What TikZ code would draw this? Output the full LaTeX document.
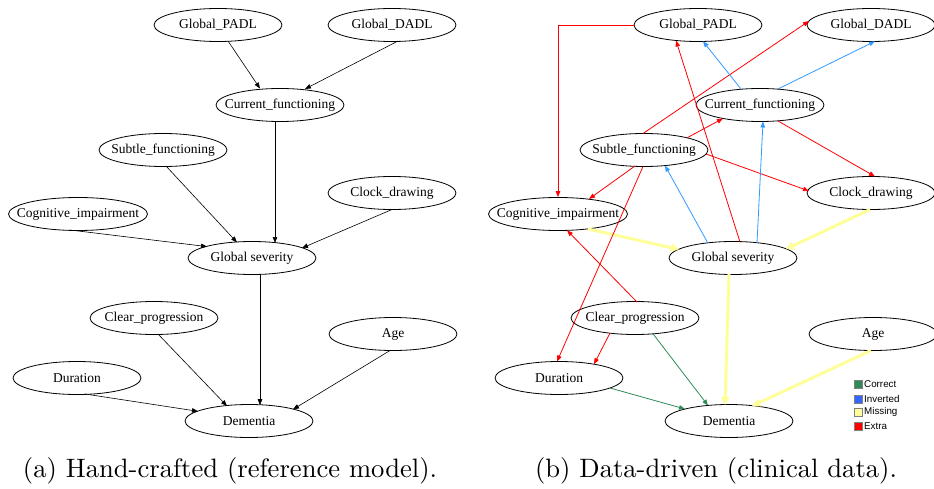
\documentclass[tikz,border=0pt]{standalone}
\usepackage{fontspec}
\newfontfamily\nodefont{Liberation Serif}
\newfontfamily\legfont{Liberation Sans}
\newfontfamily\capfont{lmroman10-regular}[Extension=.otf]
\usetikzlibrary{shapes.geometric,arrows.meta}
\definecolor{cgreen}{RGB}{46,139,87}
\definecolor{cblue}{RGB}{51,102,255}
\definecolor{eblue}{RGB}{51,153,255}
\definecolor{cyell}{RGB}{255,255,153}
\definecolor{cred}{RGB}{255,0,0}
\newcommand\lbl[1]{\makebox[0pt]{#1}}
\tikzset{
  nd/.style={ellipse, draw=black, line width=0.8pt, minimum width=128pt, minimum height=33pt,
    inner sep=0pt, font=\nodefont\fontsize{13.5}{15}\selectfont},
  blk/.style={draw=black, line width=0.6pt, -{Triangle[length=6pt,width=4.5pt]}},
  redl/.style={draw=cred, line width=0.8pt, -{Triangle[length=6pt,width=4.5pt]}},
  bluel/.style={draw=eblue, line width=0.8pt, -{Triangle[length=6pt,width=4.5pt]}},
  greenl/.style={draw=cgreen, line width=0.8pt, -{Triangle[length=6pt,width=4.5pt]}},
  yell/.style={draw=cyell, line width=3pt, -{Triangle[length=8pt,width=8pt]}},
  legbox/.style={draw=gray, line width=0.4pt, minimum size=8pt, inner sep=0pt},
  legtext/.style={anchor=west, inner sep=0pt, font=\legfont\fontsize{9.8}{11}\selectfont},
  captxt/.style={anchor=base, inner sep=0pt, font=\capfont\fontsize{26.6}{31}\selectfont}
}
\begin{document}
\begin{tikzpicture}[x=1pt,y=-1pt]
\useasboundingbox (0,0) rectangle (934,489);
% ---------- left panel ----------
\node[nd] (gp) at (218,25) {\lbl{Global\_PADL}};
\node[nd] (gd) at (392,25) {\lbl{Global\_DADL}};
\node[nd] (cf) at (280,105) {\lbl{Current\_functioning}};
\node[nd] (sf) at (163,150) {\lbl{Subtle\_functioning}};
\node[nd] (cd) at (392,193) {\lbl{Clock\_drawing}};
\node[nd, minimum width=139pt] (ci) at (78,214) {\lbl{Cognitive\_impairment}};
\node[nd] (gs) at (252,258) {\lbl{Global severity}};
\node[nd] (cp) at (154,318) {\lbl{Clear\_progression}};
\node[nd] (ag) at (393,334) {\lbl{Age}};
\node[nd] (du) at (77,378) {\lbl{Duration}};
\node[nd] (de) at (249,421) {\lbl{Dementia}};

\draw[blk] ([shift={(10,16)}]gp.center) -- ([shift={(-20,-16.5)}]cf.center);
\draw[blk] ([shift={(6,16)}]gd.center) -- ([shift={(25,-16)}]cf.center);
\draw[blk] ([shift={(-5,16.5)}]cf.center) -- ([shift={(23,-15)}]gs.center);
\draw[blk] ([shift={(3,16)}]sf.center) -- ([shift={(-15,-15.6)}]gs.center);
\draw[blk] ([shift={(-8,16)}]ci.center) -- ([shift={(-45,-11.4)}]gs.center);
\draw[blk] ([shift={(0,16.5)}]cd.center) -- ([shift={(50,-10)}]gs.center);
\draw[blk] ([shift={(8,16)}]gs.center) -- ([shift={(11,-15.8)}]de.center);
\draw[blk] ([shift={(4,16)}]cp.center) -- ([shift={(-22,-15)}]de.center);
\draw[blk] ([shift={(8,16)}]du.center) -- ([shift={(-51,-9.7)}]de.center);
\draw[blk] ([shift={(-3,16.5)}]ag.center) -- ([shift={(44,-11.6)}]de.center);

\node[captxt] (capa) at (230,477) {(a) Hand-crafted (reference model).};

% ---------- right panel ----------
\node[nd] (gp2) at (698,25) {\lbl{Global\_PADL}};
\node[nd] (gd2) at (871,25) {\lbl{Global\_DADL}};
\node[nd] (cf2) at (760,105) {\lbl{Current\_functioning}};
\node[nd] (sf2) at (644,150) {\lbl{Subtle\_functioning}};
\node[nd] (cd2) at (871,193) {\lbl{Clock\_drawing}};
\node[nd, minimum width=139pt] (ci2) at (558,214) {\lbl{Cognitive\_impairment}};
\node[nd] (gs2) at (733,258) {\lbl{Global severity}};
\node[nd] (cp2) at (635,318) {\lbl{Clear\_progression}};
\node[nd] (ag2) at (873,334) {\lbl{Age}};
\node[nd] (du2) at (559,378) {\lbl{Duration}};
\node[nd] (de2) at (729,421) {\lbl{Dementia}};

% yellow (missing)
\draw[yell] ([shift={(30,15)}]ci2.center) -- ([shift={(-54,-8.6)}]gs2.center);
\draw[yell] ([shift={(-1,16.5)}]cd2.center) -- ([shift={(53,-9)}]gs2.center);
\draw[yell] ([shift={(-4,16)}]gs2.center) -- ([shift={(-4,-16)}]de2.center);
\draw[yell] ([shift={(-2,16.5)}]ag2.center) -- ([shift={(23,-15)}]de2.center);
% red (extra)
\draw[redl] (gp2.west) -| (ci2.north);
\draw[redl] ([shift={(-1,-16.5)}]sf2.center) -- ([shift={(-62,-4)}]gd2.center);
\draw[redl] ([shift={(43,-12.2)}]sf2.center) -- ([shift={(-37,13.5)}]cf2.center);
\draw[redl] ([shift={(18,16)}]cf2.center) -- ([shift={(4,-16.5)}]cd2.center);
\draw[redl] ([shift={(62,4)}]sf2.center) -- ([shift={(-62,-2)}]cd2.center);
\draw[redl] ([shift={(-9,16)}]sf2.center) -- ([shift={(31,-15)}]ci2.center);
\draw[redl] ([shift={(-1,16.5)}]sf2.center) -- ([shift={(-2,-16.5)}]du2.center);
\draw[redl] ([shift={(7,-16)}]gs2.center) -- ([shift={(-22,15.5)}]gp2.center);
\draw[redl] ([shift={(2,-16)}]cp2.center) -- ([shift={(9,16.3)}]ci2.center);
\draw[redl] ([shift={(-25,15)}]cp2.center) -- ([shift={(35,-13.8)}]du2.center);
% blue (inverted)
\draw[bluel] ([shift={(-19,-16)}]cf2.center) -- ([shift={(5,16.3)}]gp2.center);
\draw[bluel] ([shift={(18,-16)}]cf2.center) -- ([shift={(4,16.3)}]gd2.center);
\draw[bluel] ([shift={(24,-15)}]gs2.center) -- ([shift={(3,16.5)}]cf2.center);
\draw[bluel] ([shift={(-25,-14.7)}]gs2.center) -- ([shift={(21,15.6)}]sf2.center);
% green (correct)
\draw[greenl] ([shift={(18,15.8)}]cp2.center) -- ([shift={(-21,-15.5)}]de2.center);
\draw[greenl] ([shift={(51,10)}]du2.center) -- ([shift={(-44,-12)}]de2.center);

% legend
\node[legbox, fill=cgreen] (l1) at (858,384) {};
\node[legbox, fill=cblue] (l2) at (858,399) {};
\node[legbox, fill=cyell] (l3) at (858,412) {};
\node[legbox, fill=cred] (l4) at (858,426) {};
\node[legtext] (t1) at (864,384) {Correct};
\node[legtext] (t2) at (864,399) {Inverted};
\node[legtext] (t3) at (864,412) {Missing};
\node[legtext] (t4) at (864,426) {Extra};

\node[captxt] (capb) at (716,477) {(b) Data-driven (clinical data).};
\end{tikzpicture}
\end{document}
